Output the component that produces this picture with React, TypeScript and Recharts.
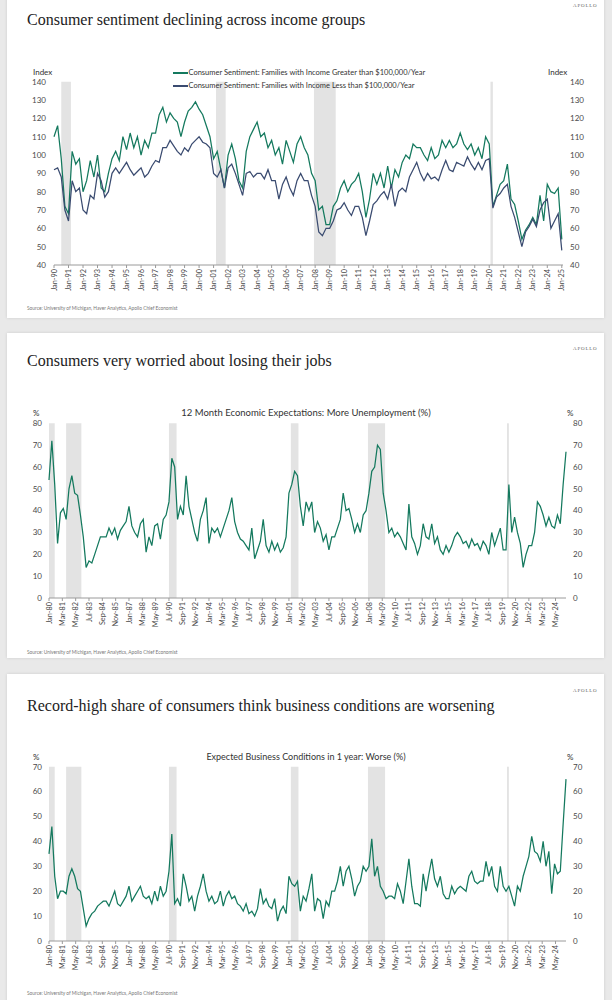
import { LineChart, Line, XAxis, YAxis, ReferenceArea } from "recharts";

const FONT = "Lato, 'Open Sans', sans-serif";
const SERIF = "'Liberation Serif', 'DejaVu Serif', serif";
const GREEN = "#14795e";
const NAVY = "#3a4b70";
const SHADE = "#e3e3e3";

const MONTHS = ["Jan", "Feb", "Mar", "Apr", "May", "Jun", "Jul", "Aug", "Sep", "Oct", "Nov", "Dec"];

// NBER recessions, start and end month
const RECESSIONS = [
  ["1980-01", "1980-07"],
  ["1981-07", "1982-11"],
  ["1990-07", "1991-03"],
  ["2001-03", "2001-11"],
  ["2007-12", "2009-06"],
  ["2020-02", "2020-04"],
];

// quarterly readings (Jan, Apr, Jul, Oct), from Jan-90
const HIGH_INCOME = [
  110, 116, 98, 72,
  68, 102, 95, 98,
  80, 86, 97, 88,
  100, 82, 80, 90,
  98, 102, 97, 110,
  103, 112, 104, 110,
  100, 108, 104, 112,
  112, 122, 126, 118,
  123, 120, 118, 110,
  118, 124, 126, 129,
  125, 122, 116, 110,
  98, 102, 92, 82,
  100, 106, 98, 86,
  82, 102, 110, 114,
  118, 110, 112, 104,
  108, 100, 104, 95,
  108, 102, 96, 106,
  110, 104, 100, 90,
  86, 70, 72, 62,
  62, 72, 75, 82,
  86, 80, 84, 86,
  90, 80, 66, 76,
  90, 84, 90, 82,
  94, 82, 92, 88,
  96, 100, 98, 106,
  104, 104, 100, 97,
  104, 98, 100, 108,
  104, 108, 104, 106,
  112, 106, 103, 106,
  100, 104, 98, 110,
  106, 72, 78, 84,
  86, 95, 76, 73,
  64, 54, 59, 62,
  66, 62, 78, 64,
  84, 80, 79, 82,
  54,
];

const LOW_INCOME = [
  92, 93, 88, 70,
  64, 86, 80, 82,
  70, 68, 78, 76,
  90, 86, 77, 80,
  90, 93, 90, 93,
  96, 92, 89, 91,
  93, 88, 90, 94,
  97, 96, 104, 104,
  108, 105, 102, 100,
  104, 102, 106, 108,
  110, 107, 106, 104,
  90, 88, 92, 82,
  93, 95, 90, 84,
  78, 90, 91, 88,
  90, 90, 87, 92,
  86, 86, 76, 84,
  88, 82, 78, 86,
  90, 86, 86, 78,
  72, 58, 56, 60,
  60, 64, 70, 71,
  74, 70, 67, 72,
  72, 66, 56, 64,
  73, 75, 78, 80,
  76, 84, 72, 80,
  82, 80, 88, 92,
  96, 90, 86, 90,
  87, 88, 86, 92,
  97, 92, 91, 96,
  95, 94, 99, 95,
  92, 96, 92, 97,
  98, 71, 77, 79,
  82, 84, 72, 66,
  58, 50, 58, 61,
  65, 61, 70, 74,
  76, 60, 64, 68,
  48,
];

// quarterly readings from Jan-80
const MORE_UNEMPLOYMENT = [
  54, 72, 52, 25,
  39, 41, 36, 50,
  56, 48, 47, 38,
  28, 14, 17, 16,
  20, 24, 28, 28,
  28, 32, 29, 32,
  27, 31, 33, 35,
  42, 33, 30, 28,
  34, 36, 21, 28,
  24, 33, 34, 27,
  36, 38, 44, 64,
  60, 36, 42, 38,
  56, 42, 36, 30,
  26, 36, 40, 46,
  25, 32, 30, 32,
  28, 32, 36, 40,
  46, 35, 30, 27,
  26, 24, 22, 32,
  18, 22, 26, 36,
  24, 21, 26, 22,
  25, 21, 23, 28,
  48, 52, 58, 56,
  42, 33, 44, 40,
  44, 30, 35, 32,
  26, 29, 22, 28,
  28, 32, 36, 48,
  40, 41, 36, 30,
  34, 30, 38, 40,
  48, 58, 60, 70,
  68, 48, 40, 30,
  32, 28, 30, 28,
  25, 22, 43, 28,
  25, 20, 24, 34,
  28, 27, 34, 25,
  28, 22, 20, 24,
  21, 24, 28, 30,
  28, 25, 26, 23,
  27, 24, 25, 22,
  26, 24, 20, 30,
  24, 28, 32, 22,
  22, 52, 30, 37,
  30, 25, 14, 20,
  24, 24, 30, 44,
  42, 38, 33, 37,
  33, 32, 38, 34,
  52, 67,
];

const BUSINESS_WORSE = [
  35, 46, 26, 17,
  20, 20, 19, 26,
  29, 26, 21, 20,
  13, 6, 9, 11,
  12, 14, 15, 16,
  16, 14, 17, 20,
  15, 14, 16, 18,
  22, 16, 18, 20,
  22, 18, 17, 18,
  15, 20, 16, 22,
  18, 20, 28, 43,
  15, 17, 14, 27,
  22, 16, 18, 12,
  18, 22, 27, 20,
  16, 18, 15, 16,
  20, 14, 18, 20,
  17, 18, 15, 14,
  12, 15, 11, 12,
  10, 13, 21, 15,
  17, 14, 13, 17,
  8, 12, 14, 11,
  26, 23, 22, 24,
  12, 18, 16, 21,
  27, 12, 17, 16,
  9, 16, 14, 20,
  20, 24, 30, 22,
  28, 30, 25, 18,
  22, 24, 30, 28,
  30, 41, 26, 30,
  22, 20, 17, 18,
  18, 17, 23, 20,
  15, 24, 33, 22,
  15, 15, 14, 27,
  20, 27, 33, 25,
  22, 26, 19, 17,
  17, 22, 19, 21,
  22, 21, 20, 26,
  28, 24, 23, 24,
  24, 32, 26, 30,
  22, 20, 30, 22,
  20, 22, 18, 14,
  22, 20, 26, 30,
  34, 42, 36, 35,
  32, 40, 30, 36,
  19, 31, 27, 28,
  47, 65,
];

const SENT_Y_TICKS = [40, 50, 60, 70, 80, 90, 100, 110, 120, 130, 140];
const UNEMP_Y_TICKS = [0, 10, 20, 30, 40, 50, 60, 70, 80];
const BIZ_Y_TICKS = [0, 10, 20, 30, 40, 50, 60, 70];

const SENT_X_TICKS = Array.from({ length: 36 }, (_, i) => i * 12);
const SURVEY_X_TICKS = Array.from({ length: 39 }, (_, i) => i * 14);

const monthIndex = (s: string, base: number) => {
  const [y, m] = s.split("-").map(Number);
  return (y - base) * 12 + (m - 1);
};

const monthLabel = (m: number, base: number) => {
  const yr = base + Math.floor(m / 12);
  return `${MONTHS[m % 12]}-${String(yr % 100).padStart(2, "0")}`;
};

const sentData = HIGH_INCOME.map((v, i) => ({ m: i * 3, high: v, low: LOW_INCOME[i] }));
const unempData = MORE_UNEMPLOYMENT.map((v, i) => ({ m: i * 3, v }));
const bizData = BUSINESS_WORSE.map((v, i) => ({ m: i * 3, v }));

function DateTick(props: any) {
  const { x, y, payload, base } = props;
  return (
    <text
      x={x}
      y={y}
      dy={2.6}
      transform={`rotate(-90 ${x} ${y})`}
      textAnchor="end"
      fontSize={7.3}
      fill="#4a4a4a"
      fontFamily={FONT}
    >
      {monthLabel(payload.value, base)}
    </text>
  );
}

const yTick = { fontSize: 8, fill: "#4a4a4a", fontFamily: FONT };

function shades(base: number, max: number) {
  return RECESSIONS.map(([a, b]) => [monthIndex(a, base), monthIndex(b, base)])
    .filter(([a]) => a >= 0 && a <= max)
    .map(([a, b]) => (
      <ReferenceArea key={a} yAxisId="l" x1={a} x2={b} fill={SHADE} fillOpacity={1} stroke="none" />
    ));
}

const abs = (s: any) => ({ position: "absolute" as const, ...s });
const small = { fontFamily: FONT, color: "#333", whiteSpace: "nowrap" as const };

function Card({ top, height }: { top: number; height: number }) {
  return (
    <div
      style={abs({
        left: 7,
        top,
        width: 597,
        height,
        background: "#fff",
        boxShadow: "0 0 3px rgba(0,0,0,0.12)",
      })}
    />
  );
}

function Title({ top, text }: { top: number; text: string }) {
  return (
    <div style={abs({ left: 27, top, fontFamily: SERIF, fontSize: 16, color: "#222", lineHeight: "20px", whiteSpace: "nowrap" })}>
      {text}
    </div>
  );
}

function Apollo({ top }: { top: number }) {
  return (
    <div style={abs({ left: 573, top, fontFamily: SERIF, fontSize: 5, letterSpacing: 0.8, color: "#666", lineHeight: "6px" })}>
      APOLLO
    </div>
  );
}

function Source({ top }: { top: number }) {
  return (
    <div style={abs({ left: 27, top, fontFamily: FONT, fontSize: 4.8, color: "#777", lineHeight: "6px", whiteSpace: "nowrap" })}>
      Source: University of Michigan, Haver Analytics, Apollo Chief Economist
    </div>
  );
}

function Label({ left, top, text, size = 8, center = false }: any) {
  return (
    <div
      style={abs({
        left,
        top,
        fontSize: size,
        lineHeight: `${size + 2}px`,
        transform: center ? "translateX(-50%)" : undefined,
        ...small,
      })}
    >
      {text}
    </div>
  );
}

function LegendRow({ top, color, text }: any) {
  return (
    <div style={abs({ left: 173, top, display: "flex", alignItems: "center", ...small, fontSize: 7.5, lineHeight: "10px" })}>
      <span style={{ display: "inline-block", width: 15, height: 1.6, background: color, marginRight: 0.5 }} />
      {text}
    </div>
  );
}

// the right-hand axis only mirrors the left one; an invisible copy of the series lets it render
function SurveyChart({ data, top, height, marginTop, ticks, max }: any) {
  return (
    <div style={abs({ left: 0, top })}>
      <LineChart width={612} height={height} data={data} margin={{ top: marginTop, right: 0, bottom: 0, left: 0 }}>
        {shades(1980, 543)}
        <XAxis
          dataKey="m"
          type="number"
          domain={[0, 543]}
          ticks={SURVEY_X_TICKS}
          interval={0}
          height={35}
          tickSize={3}
          tickMargin={1}
          axisLine={{ stroke: "#9a9a9a" }}
          tickLine={{ stroke: "#9a9a9a" }}
          tick={(p: any) => <DateTick {...p} base={1980} />}
        />
        <YAxis yAxisId="l" domain={[0, max]} ticks={ticks} interval={0} width={49} axisLine={false} tickLine={false} tickSize={4} tickMargin={3} tick={yTick} />
        <YAxis yAxisId="r" orientation="right" domain={[0, max]} ticks={ticks} interval={0} width={46} axisLine={false} tickLine={false} tickSize={4} tickMargin={3} tick={{ ...yTick, textAnchor: "start" }} />
        <Line yAxisId="r" dataKey="v" type="linear" stroke="transparent" strokeWidth={0} dot={false} activeDot={false} isAnimationActive={false} />
        <Line yAxisId="l" dataKey="v" type="linear" stroke={GREEN} strokeWidth={1.25} dot={false} isAnimationActive={false} />
      </LineChart>
    </div>
  );
}

export default function App() {
  return (
    <div style={abs({ left: 0, top: 0, width: 612, height: 1000, background: "#e9e9e9", overflow: "hidden" })}>
      <Card top={-6} height={324} />
      <Card top={333} height={325} />
      <Card top={674} height={340} />

      {/* panel 1 */}
      <div style={abs({ left: 0, top: 0 })}>
        <LineChart width={612} height={300} data={sentData} margin={{ top: 81.7, right: 0, bottom: 0, left: 0 }}>
          {shades(1990, 421)}
          <XAxis
            dataKey="m"
            type="number"
            domain={[0, 421]}
            ticks={SENT_X_TICKS}
            interval={0}
            height={35}
            tickSize={3}
            tickMargin={1}
            axisLine={{ stroke: "#9a9a9a" }}
            tickLine={{ stroke: "#9a9a9a" }}
            tick={(p: any) => <DateTick {...p} base={1990} />}
          />
          <YAxis yAxisId="l" domain={[40, 140]} ticks={SENT_Y_TICKS} interval={0} width={54} axisLine={false} tickLine={false} tickSize={5} tickMargin={3} tick={yTick} />
          <YAxis yAxisId="r" orientation="right" domain={[40, 140]} ticks={SENT_Y_TICKS} interval={0} width={49} axisLine={false} tickLine={false} tickSize={4} tickMargin={3} tick={{ ...yTick, textAnchor: "start" }} />
          <Line yAxisId="r" dataKey="high" type="linear" stroke="transparent" strokeWidth={0} dot={false} activeDot={false} isAnimationActive={false} />
          <Line yAxisId="l" dataKey="high" type="linear" stroke={GREEN} strokeWidth={1.25} dot={false} isAnimationActive={false} />
          <Line yAxisId="l" dataKey="low" type="linear" stroke={NAVY} strokeWidth={1.25} dot={false} isAnimationActive={false} />
        </LineChart>
      </div>
      <Apollo top={3} />
      <Title top={10} text="Consumer sentiment declining across income groups" />
      <Label left={33} top={67} text="Index" />
      <Label left={548} top={67} text="Index" />
      <LegendRow top={68} color={GREEN} text="Consumer Sentiment: Families with Income Greater than $100,000/Year" />
      <LegendRow top={81} color={NAVY} text="Consumer Sentiment: Families with Income Less than $100,000/Year" />
      <Source top={305} />

      {/* panel 2 */}
      <SurveyChart data={unempData} top={380} height={253} marginTop={43.3} ticks={UNEMP_Y_TICKS} max={80} />
      <Apollo top={346} />
      <Title top={351} text="Consumers very worried about losing their jobs" />
      <Label left={33} top={408} text="%" />
      <Label left={567} top={408} text="%" />
      <Label left={306} top={407} text="12 Month Economic Expectations: More Unemployment (%)" size={9.5} center />
      <Source top={649} />

      {/* panel 3 */}
      <SurveyChart data={bizData} top={740} height={236} marginTop={26.7} ticks={BIZ_Y_TICKS} max={70} />
      <Apollo top={688} />
      <Title top={696} text="Record-high share of consumers think business conditions are worsening" />
      <Label left={33} top={752} text="%" />
      <Label left={567} top={752} text="%" />
      <Label left={306} top={751} text="Expected Business Conditions in 1 year: Worse (%)" size={9} center />
      <Source top={990} />
    </div>
  );
}
